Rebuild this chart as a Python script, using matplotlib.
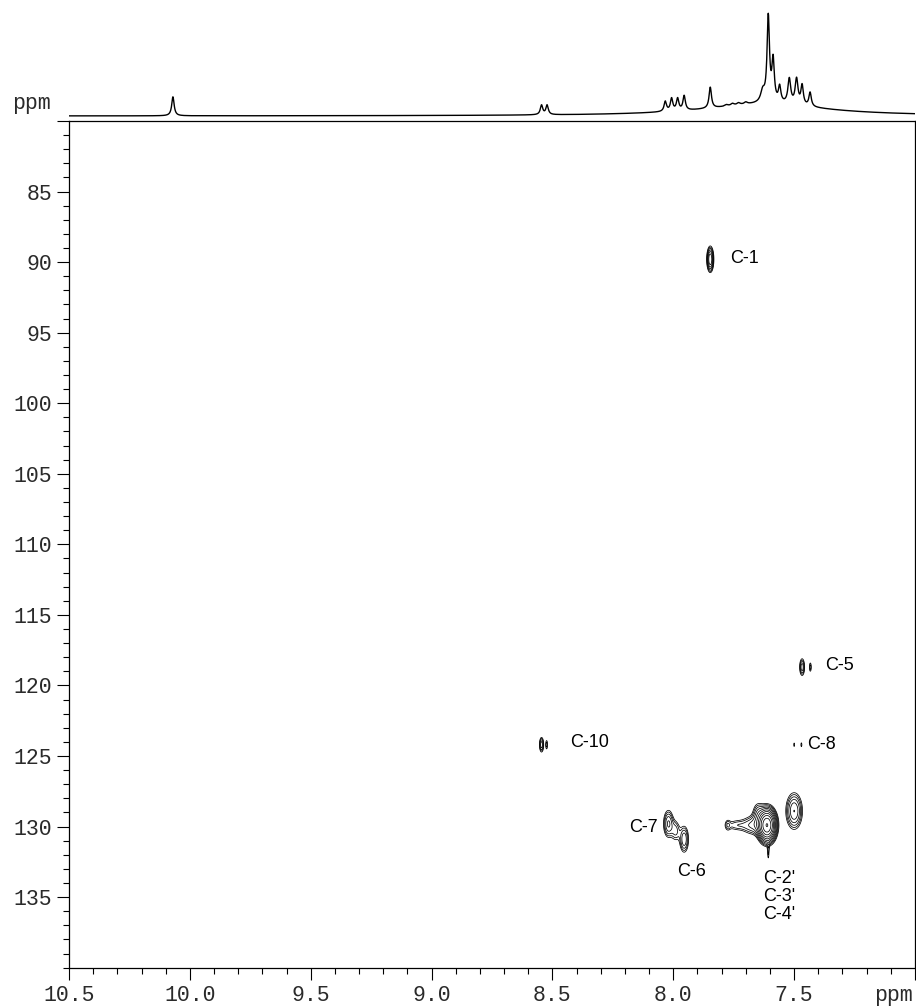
import numpy as np
import matplotlib
matplotlib.use("Agg")
import matplotlib.pyplot as plt
from matplotlib.ticker import FixedLocator, MultipleLocator, FixedFormatter

# ---------------- data ----------------
# 1H projection (top trace): peak list
h1_shift = [10.07, 8.545, 8.522, 8.033, 8.007, 7.982, 7.955, 7.847,
            7.78, 7.755, 7.73, 7.70, 7.63, 7.607, 7.587, 7.56,
            7.52, 7.49, 7.467, 7.434]
h1_height = [19.0, 9.5, 9.5, 10.0, 12.5, 12.0, 14.5, 21.0,
             1.5, 2.0, 2.0, 2.0, 11.0, 85.0, 41.0, 15.7,
             25.0, 25.5, 19.5, 14.0]
h1_hwhm = [0.006, 0.006, 0.006, 0.006, 0.006, 0.006, 0.006, 0.006,
           0.008, 0.008, 0.008, 0.008, 0.010, 0.006, 0.006, 0.006,
           0.007, 0.007, 0.006, 0.006]
hump_center, hump_hwhm, hump_height = 7.62, 0.30, 12.0

# HSQC cross peaks (1H ppm, 13C ppm, widths, intensity)
xp_h = [7.847, 7.467, 7.433, 7.500, 7.470, 8.545, 8.524,
        8.020, 7.990, 7.955,
        7.612, 7.607, 7.650, 7.670, 7.740, 7.775, 7.500]
xp_c = [89.8, 118.7, 118.7, 124.2, 124.2, 124.2, 124.2,
        129.8, 130.3, 130.9,
        129.9, 131.8, 129.0, 129.9, 129.9, 129.9, 128.9]
xp_sig_h = [0.008, 0.007, 0.004, 0.003, 0.003, 0.006, 0.004,
            0.013, 0.012, 0.012,
            0.020, 0.003, 0.015, 0.030, 0.030, 0.008, 0.020]
xp_sig_c = [0.50, 0.40, 0.30, 0.20, 0.20, 0.35, 0.30,
            0.60, 0.50, 0.60,
            0.62, 0.50, 0.50, 0.45, 0.28, 0.30, 0.75]
xp_amp = [6.0, 3.0, 1.6, 1.2, 1.25, 3.0, 1.6,
          3.5, 2.0, 3.2,
          20.0, 1.4, 1.8, 2.5, 1.6, 1.2, 4.5]
contour_base, contour_factor, n_levels = 1.0, 1.35, 16

# assignments
label_text = ["C-1", "C-5", "C-10", "C-8", "C-7", "C-6", "C-2'\nC-3'\nC-4'"]
label_h = [7.765, 7.372, 8.427, 7.447, 8.063, 7.985, 7.629]
label_c = [89.74, 118.6, 124.04, 124.2, 130.1, 133.2, 133.1]
label_ha = ["left", "left", "left", "left", "right", "left", "left"]
label_va = ["center", "center", "center", "center", "center", "center", "top"]

x_major = [10.5, 10.0, 9.5, 9.0, 8.5, 8.0, 7.5, 7.0]
x_labels = ["10.5", "10.0", "9.5", "9.0", "8.5", "8.0", "7.5", ""]
y_major = [80, 85, 90, 95, 100, 105, 110, 115, 120, 125, 130, 135]
y_labels = ["", "85", "90", "95", "100", "105", "110", "115", "120", "125", "130", "135"]

# ---------------- figure ----------------
W, H = 916, 1008
fig = plt.figure(figsize=(W / 100, H / 100), dpi=100)
mono = "Liberation Mono"
sans = "Liberation Sans"

ax = fig.add_axes([69 / W, 1 - 967.7 / H, 846 / W, 846.7 / H])
ax.set_xlim(10.5, 7.0)
ax.set_ylim(140, 80)

hh = np.linspace(7.0, 10.5, 3501)
cc = np.linspace(80, 140, 1501)
Z = np.zeros((cc.size, hh.size))
for h, c, sh, sc, a in zip(xp_h, xp_c, xp_sig_h, xp_sig_c, xp_amp):
    Z += a * np.outer(np.exp(-0.5 * ((cc - c) / sc) ** 2),
                      np.exp(-0.5 * ((hh - h) / sh) ** 2))
levels = contour_base * contour_factor ** np.arange(n_levels)
ax.contour(hh, cc, Z, levels=levels, colors="black", linewidths=0.55)

for t, x, y, ha, va in zip(label_text, label_h, label_c, label_ha, label_va):
    ax.text(x, y, t, ha=ha, va=va, fontsize=13, family=sans, color="black",
            linespacing=1.05)

ax.xaxis.set_major_locator(FixedLocator(x_major))
ax.xaxis.set_major_formatter(FixedFormatter(x_labels))
ax.xaxis.set_minor_locator(MultipleLocator(0.1))
ax.yaxis.set_major_locator(FixedLocator(y_major))
ax.yaxis.set_major_formatter(FixedFormatter(y_labels))
ax.yaxis.set_minor_locator(MultipleLocator(1))
ax.tick_params(which="major", direction="out", length=8.5, width=0.8,
               labelsize=15.5, colors="black", labelcolor="#2a2a2a")
ax.tick_params(which="minor", direction="out", length=4.3, width=0.8)
ax.tick_params(axis="y", which="major", pad=3.5)
ax.tick_params(axis="x", which="major", pad=4)
for lab in ax.get_xticklabels() + ax.get_yticklabels():
    lab.set_family(mono)
for s in ax.spines.values():
    s.set_linewidth(0.9)

fig.text(913 / W, 1 - 996 / H, "ppm", ha="right", va="center",
         fontsize=15.5, family=mono, color="#2a2a2a")

# top 1H projection
axt = fig.add_axes([69 / W, 1 - 118 / H, 846 / W, 118 / H])
axt.set_xlim(10.5, 7.0)
axt.set_ylim(-2, 116)
xs = np.linspace(7.0, 10.5, 7001)
ys = hump_height / (1 + ((xs - hump_center) / hump_hwhm) ** 2)
for p, a, w in zip(h1_shift, h1_height, h1_hwhm):
    ys += a / (1 + ((xs - p) / w) ** 2)
axt.plot(xs, ys, color="black", lw=1.0)
axt.axis("off")
fig.text(12 / W, 1 - 104 / H, "ppm", ha="left", va="center",
         fontsize=15.5, family=mono, color="#2a2a2a")

fig.savefig("out.png", dpi=100)
